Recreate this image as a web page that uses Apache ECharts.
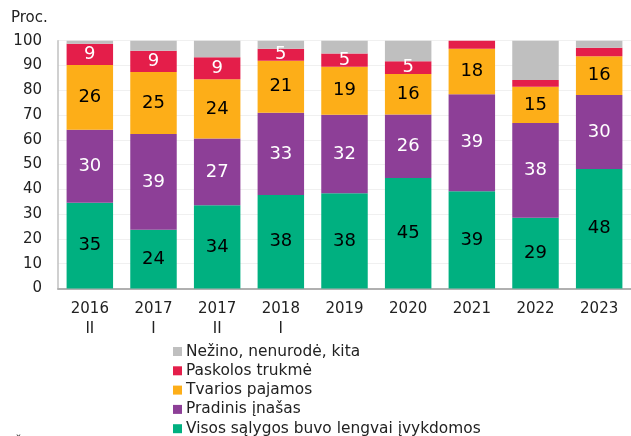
<!DOCTYPE html>
<html>
<head>
<meta charset="utf-8">
<script src="https://cdn.jsdelivr.net/npm/echarts@6/dist/echarts.min.js"></script>
<style>
  html, body { margin: 0; padding: 0; background: #fff; }
  #chart { width: 631px; height: 436px; }
</style>
</head>
<body>
<div id="chart"></div>
<script>
var categories = ['2016\nII', '2017\nI', '2017\nII', '2018\nI', '2019', '2020', '2021', '2022', '2023']
var yTicks = { min: 0, max: 100, step: 10 }

// values (labels are rounded)
var lengvai = [34.6, 23.7, 33.6, 37.7, 38.4, 44.6, 39.2, 28.6, 48.2]
var inasas = [29.5, 38.6, 26.9, 33.2, 31.7, 25.6, 39.2, 38.2, 29.9]
var pajamos = [26.1, 25.1, 23.9, 21.0, 19.4, 16.4, 18.4, 14.6, 15.6]
var trukme = [8.6, 8.5, 8.9, 4.9, 5.3, 5.1, 3.2, 2.7, 3.5]
var kita = [1.2, 4.1, 6.7, 3.2, 5.2, 8.3, 0, 15.9, 2.8]

var names = ['Visos sąlygos buvo lengvai įvykdomos', 'Pradinis įnašas', 'Tvarios pajamos', 'Paskolos trukmė', 'Nežino, nenurodė, kita']
var colors = ['#00b080', '#8d3f97', '#fdae18', '#e41e4a', '#bfbfbf']
var labelColors = ['#000', '#fff', '#000', '#fff', null]
var values = [lengvai, inasas, pajamos, trukme, kita]

var font = 'DejaVu Sans, Verdana, sans-serif'

var series = values.map(function (d, i) {
  return {
    name: names[i],
    type: 'bar',
    stack: 'total',
    barCategoryGap: '27%',
    data: d,
    itemStyle: { color: colors[i] },
    label: {
      show: labelColors[i] != null,
      position: 'inside',
      color: labelColors[i] || '#000',
      fontFamily: font,
      fontSize: 18,
      formatter: function (p) {
        return p.value >= 4.5 ? Math.round(p.value) : ''
      }
    }
  }
})

var chart = echarts.init(document.getElementById('chart'), null, { renderer: 'canvas' })
chart.setOption({
  animation: false,
  textStyle: { fontFamily: font },
  grid: { left: 58, right: -3, top: 40.7, bottom: 147.5, containLabel: false },
  graphic: [
    { type: 'text', left: 11, top: 11, style: { text: 'Proc.', font: '15px ' + font, fill: '#222' } },
    // source note, cut off by the bottom edge (only the caron shows)
    { type: 'text', x: 14, y: 444, style: { text: 'Šaltinis: Lietuvos bankas.', font: '14px ' + font, fill: '#444', verticalAlign: 'middle' } }
  ],
  legend: {
    orient: 'vertical',
    left: 168,
    top: 339,
    height: 120,
    itemWidth: 9,
    itemHeight: 9,
    itemGap: 4.3,
    icon: 'rect',
    data: names.slice().reverse(),
    textStyle: { fontFamily: font, fontSize: 15.4, color: '#222', padding: [0, 0, 0, -1] }
  },
  xAxis: {
    type: 'category',
    data: categories,
    axisLine: { lineStyle: { color: '#b0b0b0', width: 2 } },
    axisTick: { show: false },
    axisLabel: { fontFamily: font, fontSize: 15, color: '#222', lineHeight: 20, margin: 11 }
  },
  yAxis: {
    type: 'value',
    min: yTicks.min,
    max: yTicks.max,
    interval: yTicks.step,
    axisLine: { show: true, lineStyle: { color: '#c0c0c0', width: 1.5 } },
    axisTick: { show: false },
    splitLine: { lineStyle: { color: '#f0f0f0', width: 1 } },
    axisLabel: { fontFamily: font, fontSize: 15, color: '#222', margin: 16 }
  },
  series: series
})
</script>
</body>
</html>
